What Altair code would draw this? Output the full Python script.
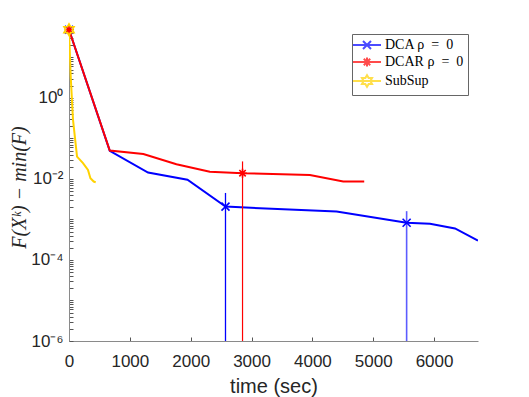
import math
import altair as alt
import pandas as pd

# ---------------- data ----------------
series_names = ["DCA ρ\u2002=\u20020", "DCAR ρ\u2002=\u20020", "SubSup"]
series_colors = ["#0000ff", "#ff0000", "#ffd200"]

dca_time = [0, 670, 1299, 1947, 2572, 4398, 5549, 5933, 6344, 6722]
dca_val = [48, 0.049, 0.0143, 0.0095, 0.00207, 0.00156, 0.00083, 0.00078, 0.00060, 0.00030]

dcar_time = [0, 670, 1222, 1766, 2314, 2852, 3959, 4507, 4852]
dcar_val = [48, 0.050, 0.041, 0.023, 0.0151, 0.0138, 0.0125, 0.0086, 0.0086]

sub_time = [0, 28, 66, 132, 230, 312, 352, 406, 439]
sub_val = [48, 3.36, 0.286, 0.0356, 0.0244, 0.0166, 0.0104, 0.0086, 0.0083]

# marker positions (series index, time, value)
marker_series = [0, 0, 0, 1, 1, 2]
marker_time = [0, 2572, 5549, 0, 2852, 0]
marker_val = [48, 0.00207, 0.00083, 48, 0.0138, 48]

# vertical lines (time, top value, colour, width)
vline_time = [2572, 2852, 5549]
vline_top = [0.0045, 0.027, 0.0016]
vline_color = ["#0000ff", "#ff0000", "#5c5cff"]
vline_width = [1.3, 1.2, 1.6]
vline_bottom = 1e-6

x_ticks = [0, 1000, 2000, 3000, 4000, 5000, 6000]
x_domain = [0, 6722]
y_domain = [1e-6, 50]
y_major = [1, 0.01, 0.0001, 0.000001]
y_major_labels = ["10⁰", "10⁻²", "10⁻⁴", "10⁻⁶"]

# ---------------- marker shapes ----------------
def hexagram(r_out):
    r_in = r_out / math.sqrt(3)
    pts = []
    for i in range(12):
        a = math.radians(90 + 30 * i)
        r = r_out if i % 2 == 0 else r_in
        pts.append(f"{r*math.cos(a):.3f},{-r*math.sin(a):.3f}")
    return "M" + "L".join(pts) + "Z"

shape_x = "M-1,-1L1,1M-1,1L1,-1"
shape_ast = "M-1.1,0L1.1,0M0,-1.1L0,1.1M-0.8,-0.8L0.8,0.8M-0.8,0.8L0.8,-0.8"
shape_hex = hexagram(1.45)
series_shapes = [shape_x, shape_ast, shape_hex]
legend_shapes = ["M-3.5,0L3.5,0" + s for s in series_shapes]

# ---------------- tables ----------------
rows = []
for i, (ts, vs) in enumerate([(dca_time, dca_val), (dcar_time, dcar_val), (sub_time, sub_val)]):
    for t, v in zip(ts, vs):
        rows.append({"series": series_names[i], "color": series_colors[i], "t": t, "v": v})
lines_df = pd.DataFrame(rows)

markers_df = pd.DataFrame({
    "series": [series_names[i] for i in marker_series],
    "color": [series_colors[i] for i in marker_series],
    "shape": [series_shapes[i] for i in marker_series],
    "t": marker_time,
    "v": marker_val,
})

vlines_df = pd.DataFrame({
    "t": vline_time, "top": vline_top, "color": vline_color,
    "w": vline_width, "bottom": [vline_bottom] * len(vline_time),
})

y_values = [m * 10.0 ** e for e in range(-6, 1) for m in range(1, 10)] + [10, 20, 30, 40, 50]
label_expr = " : ".join(
    f"datum.value == {v!r} ? '{lab}'" for v, lab in zip(y_major, y_major_labels)
) + " : ''"

axis_common = dict(
    domainColor="#8a8a8a", tickColor="#555555", labelColor="#262626",
    labelFont="Liberation Sans", labelFontSize=17, grid=False,
    tickSize={"expr": "-4"}, titleColor="#262626", titleFontWeight="normal",
)

x_enc = alt.X("t:Q", scale=alt.Scale(domain=x_domain, nice=False, zero=False),
              axis=alt.Axis(values=x_ticks, format="d", labelPadding=16,
                            labelFlush=False, title="time (sec)",
                            titleFont="Liberation Sans", titleFontSize=20,
                            titleX=204.5, titleY=51, titleBaseline="alphabetic",
                            titleAnchor="middle", **axis_common))
y_scale = alt.Scale(type="log", domain=y_domain, nice=False)
y_enc = alt.Y("v:Q", scale=y_scale,
              axis=alt.Axis(values=y_values, labelExpr=label_expr, labelOverlap=False,
                            labelPadding=10, labelFlush=False,
                            title="F(Xᵏ) − min(F)", titleFont="Liberation Serif",
                            titleFontSize=20, titleFontStyle="italic",
                            titleAngle=270, titleX=-50, titleY=158,
                            titleAlign="center", titleBaseline="middle",
                            **axis_common))

lines = alt.Chart(lines_df).mark_line(strokeWidth=2, clip=True).encode(
    x=x_enc, y=y_enc,
    color=alt.Color("color:N", scale=None),
    detail="series:N",
)

vlines = alt.Chart(vlines_df).mark_rule().encode(
    x="t:Q",
    y=alt.Y("top:Q", scale=y_scale),
    y2="bottom:Q",
    color=alt.Color("color:N", scale=None),
    strokeWidth=alt.StrokeWidth("w:Q", scale=None),
)

markers = alt.Chart(markers_df).mark_point(filled=False, size=64, strokeWidth=1.6, opacity=1).encode(
    x="t:Q",
    y=alt.Y("v:Q", scale=y_scale),
    color=alt.Color("color:N", scale=None),
    shape=alt.Shape("shape:N", scale=None),
)

leg = alt.Legend(title=None, orient="none", legendX=283, legendY=5, direction="vertical",
                 padding=4, fillColor="white", strokeColor="#666666",
                 symbolSize=64, symbolStrokeWidth=2, symbolOffset=4, labelOffset=11,
                 labelFont="Liberation Serif", labelFontSize=14, labelColor="black",
                 rowPadding=0)

legend_layer = alt.Chart(lines_df).transform_filter("false").mark_point(filled=False).encode(
    x="t:Q",
    y=alt.Y("v:Q", scale=y_scale),
    color=alt.Color("series:N", scale=alt.Scale(domain=series_names, range=series_colors), legend=leg),
    shape=alt.Shape("series:N", scale=alt.Scale(domain=series_names, range=legend_shapes), legend=leg),
)

chart = alt.layer(lines, vlines, markers, legend_layer).resolve_scale(
    color="independent", shape="independent"
).properties(
    width=409, height=312,
    autosize=alt.AutoSizeParams(type="none"),
    padding={"left": 61, "top": 21, "right": 40, "bottom": 56},
).configure_view(stroke=None)

chart.save("out.html", embed_options={"renderer": "svg", "actions": False})
